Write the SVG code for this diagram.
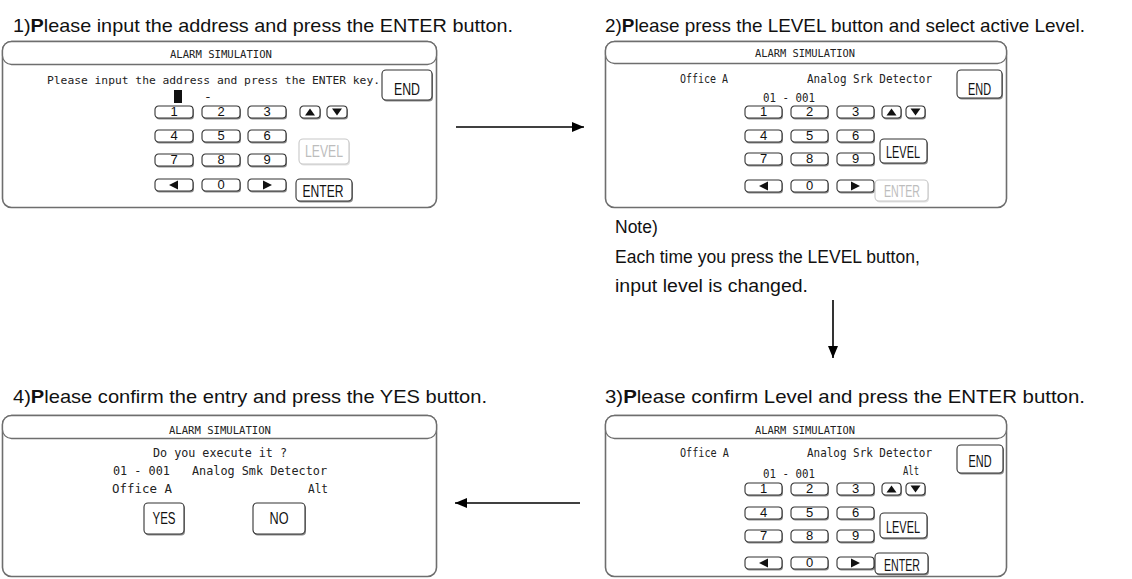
<svg xmlns="http://www.w3.org/2000/svg" width="1132" height="579" viewBox="0 0 1132 579">
<style>
  text { font-family: "Liberation Sans", Arial, sans-serif; }
  .ttl { font-size: 19px; fill: #111; }
  .ttl tspan { font-weight: bold; }
  .note { font-size: 17.5px; fill: #111; }
  .scr { font-family: "DejaVu Sans Mono", "Liberation Mono", monospace; font-size: 13px; fill: #222; }
  .hd { font-family: "DejaVu Sans Mono", "Liberation Mono", monospace; font-size: 11px; fill: #222; }
  .frame { fill: #fff; stroke: #6e6e6e; stroke-width: 1.6; }
  .hdr { fill: #fff; stroke: #6e6e6e; stroke-width: 1.3; }
  .k { fill: #fff; stroke: #333; stroke-width: 1.1; }
  .ksh { fill: #8c8c8c; }
  .kt { font-size: 13px; fill: #111; text-anchor: middle; }
  .bt { font-size: 16px; fill: #111; text-anchor: middle; }
  .off .k { stroke: #c8c8c8; }
  .off .ksh { fill: #e2e2e2; }
  .off .bt { fill: #bdbdbd; }
  .tri { fill: #111; }
  #connectors line { stroke: #000; stroke-width: 1.6; }
</style>
<defs>
  <marker id="arrow" markerUnits="userSpaceOnUse" markerWidth="13" markerHeight="11" refX="12" refY="5" orient="auto">
    <path d="M0,0 L12,5 L0,10 Z" fill="#000"/>
  </marker>
  <!-- numeric keys -->
  <g id="key">
    <rect class="ksh" x="1" y="1.6" width="38" height="12" rx="3.5"/>
    <rect class="k" x="0" y="0" width="38" height="12" rx="3.5"/>
  </g>
  <g id="key2">
    <rect class="ksh" x="1" y="1.6" width="37" height="12" rx="3.5"/>
    <rect class="k" x="0" y="0" width="37" height="12" rx="3.5"/>
  </g>
  <!-- up/down keys -->
  <g id="skey">
    <rect class="ksh" x="1" y="1.6" width="20" height="12" rx="3.5"/>
    <rect class="k" x="0" y="0" width="20" height="12" rx="3.5"/>
  </g>
  <g id="skey2">
    <rect class="ksh" x="1" y="1.6" width="19" height="12" rx="3.5"/>
    <rect class="k" x="0" y="0" width="19" height="12" rx="3.5"/>
  </g>
  <!-- ten-key block for the wide screen, origin at top-left of key "1" -->
  <g id="pad">
    <use href="#key" x="0" y="0"/><use href="#key" x="47" y="0"/><use href="#key" x="93" y="0"/>
    <use href="#key" x="0" y="24"/><use href="#key" x="47" y="24"/><use href="#key" x="93" y="24"/>
    <use href="#key" x="0" y="48"/><use href="#key" x="47" y="48"/><use href="#key" x="93" y="48"/>
    <use href="#key" x="0" y="73"/><use href="#key" x="47" y="73"/><use href="#key" x="93" y="73"/>
    <use href="#skey" x="145" y="0"/><use href="#skey" x="172" y="0"/>
    <text class="kt" x="19" y="10">1</text><text class="kt" x="66" y="10">2</text><text class="kt" x="112" y="10">3</text>
    <text class="kt" x="19" y="34">4</text><text class="kt" x="66" y="34">5</text><text class="kt" x="112" y="34">6</text>
    <text class="kt" x="19" y="58">7</text><text class="kt" x="66" y="58">8</text><text class="kt" x="112" y="58">9</text>
    <text class="kt" x="66" y="83">0</text>
    <path class="tri" d="M14,79 L23,74.5 L23,83.5 Z"/>
    <path class="tri" d="M108,74.5 L117,79 L108,83.5 Z"/>
    <path class="tri" d="M150,9.5 L155,2.5 L160,9.5 Z"/>
    <path class="tri" d="M177,2.5 L187,2.5 L182,9.5 Z"/>
  </g>
  <!-- ten-key block for the narrow screens -->
  <g id="pad2">
    <use href="#key2" x="0" y="0"/><use href="#key2" x="46" y="0"/><use href="#key2" x="92" y="0"/>
    <use href="#key2" x="0" y="24"/><use href="#key2" x="46" y="24"/><use href="#key2" x="92" y="24"/>
    <use href="#key2" x="0" y="47"/><use href="#key2" x="46" y="47"/><use href="#key2" x="92" y="47"/>
    <use href="#key2" x="0" y="74"/><use href="#key2" x="46" y="74"/><use href="#key2" x="92" y="74"/>
    <use href="#skey2" x="137" y="0"/><use href="#skey2" x="161" y="0"/>
    <text class="kt" x="18.5" y="10">1</text><text class="kt" x="64.5" y="10">2</text><text class="kt" x="110.5" y="10">3</text>
    <text class="kt" x="18.5" y="34">4</text><text class="kt" x="64.5" y="34">5</text><text class="kt" x="110.5" y="34">6</text>
    <text class="kt" x="18.5" y="57">7</text><text class="kt" x="64.5" y="57">8</text><text class="kt" x="110.5" y="57">9</text>
    <text class="kt" x="64.5" y="84">0</text>
    <path class="tri" d="M14,80 L23,75.5 L23,84.5 Z"/>
    <path class="tri" d="M106,75.5 L115,80 L106,84.5 Z"/>
    <path class="tri" d="M141.5,9.5 L146.5,2.5 L151.5,9.5 Z"/>
    <path class="tri" d="M165.5,2.5 L175.5,2.5 L170.5,9.5 Z"/>
  </g>
</defs>

<rect width="1132" height="579" fill="#fff"/>

<!-- step 1: address entry -->
<g id="step1">
  <text class="ttl" x="13" y="32" textLength="500" lengthAdjust="spacingAndGlyphs">1)<tspan>P</tspan>lease input the address and press the ENTER button.</text>
  <rect class="frame" x="2.5" y="41.5" width="434" height="166" rx="9"/>
  <rect class="hdr" x="2.5" y="41.5" width="434" height="23" rx="9"/>
  <text class="hd" x="221" y="57.5" text-anchor="middle" textLength="102" lengthAdjust="spacingAndGlyphs">ALARM SIMULATION</text>
  <text class="scr" x="47" y="84" style="font-size:11.3px" textLength="333" lengthAdjust="spacingAndGlyphs">Please input the address and press the ENTER key.</text>
  <g>
    <rect class="ksh" x="383" y="71.5" width="50" height="30" rx="4"/>
    <rect class="k" x="382" y="70" width="50" height="30" rx="4"/>
    <text class="bt" x="407" y="95" textLength="26" lengthAdjust="spacingAndGlyphs">END</text>
  </g>
  <rect x="174" y="90" width="8" height="13" fill="#111"/>
  <text class="scr" x="208" y="101" text-anchor="middle">-</text>
  <use href="#pad" x="155" y="106"/>
  <g class="off">
    <rect class="ksh" x="300" y="140.5" width="50" height="25" rx="4"/>
    <rect class="k" x="299" y="139" width="50" height="25" rx="4"/>
    <text class="bt" x="324" y="157" textLength="38" lengthAdjust="spacingAndGlyphs">LEVEL</text>
  </g>
  <g>
    <rect class="ksh" x="297" y="180.5" width="56" height="22" rx="4"/>
    <rect class="k" x="296" y="179" width="56" height="22" rx="4"/>
    <text class="bt" x="323" y="197" textLength="41" lengthAdjust="spacingAndGlyphs">ENTER</text>
  </g>
</g>

<!-- step 2: level selection -->
<g id="step2">
  <text class="ttl" x="605" y="32" textLength="480" lengthAdjust="spacingAndGlyphs">2)<tspan>P</tspan>lease press the LEVEL button and select active Level.</text>
  <rect class="frame" x="605.5" y="41.5" width="401" height="166" rx="9"/>
  <rect class="hdr" x="605.5" y="41.5" width="401" height="22" rx="9"/>
  <text class="hd" x="805" y="57" text-anchor="middle" textLength="100" lengthAdjust="spacingAndGlyphs">ALARM SIMULATION</text>
  <text class="scr" x="680" y="83" textLength="48" lengthAdjust="spacingAndGlyphs">Office A</text>
  <text class="scr" x="807" y="83" textLength="125" lengthAdjust="spacingAndGlyphs">Analog Srk Detector</text>
  <text class="scr" x="763" y="102" textLength="52" lengthAdjust="spacingAndGlyphs">01 - 001</text>
  <g>
    <rect class="ksh" x="958" y="71.5" width="45" height="28" rx="4"/>
    <rect class="k" x="957" y="70" width="45" height="28" rx="4"/>
    <text class="bt" x="979.5" y="94.5" textLength="23" lengthAdjust="spacingAndGlyphs">END</text>
  </g>
  <use href="#pad2" x="745" y="106"/>
  <g>
    <rect class="ksh" x="881" y="140.5" width="47" height="24" rx="4"/>
    <rect class="k" x="880" y="139" width="47" height="24" rx="4"/>
    <text class="bt" x="903" y="158" textLength="34" lengthAdjust="spacingAndGlyphs">LEVEL</text>
  </g>
  <g class="off">
    <rect class="ksh" x="876" y="181.5" width="53" height="21" rx="4"/>
    <rect class="k" x="875" y="180" width="53" height="21" rx="4"/>
    <text class="bt" x="902" y="196.5" textLength="36" lengthAdjust="spacingAndGlyphs">ENTER</text>
  </g>
</g>

<!-- note under step 2 -->
<g id="note">
  <text class="note" x="615" y="233">Note)</text>
  <text class="note" x="615" y="263">Each time you press the LEVEL button,</text>
  <text class="note" x="615" y="292" textLength="193" lengthAdjust="spacingAndGlyphs">input level is changed.</text>
</g>

<!-- step 3: level confirmation -->
<g id="step3">
  <text class="ttl" x="605" y="403" textLength="480" lengthAdjust="spacingAndGlyphs">3)<tspan>P</tspan>lease confirm Level and press the ENTER button.</text>
  <rect class="frame" x="605.5" y="415.5" width="401" height="161" rx="9"/>
  <rect class="hdr" x="605.5" y="415.5" width="401" height="23" rx="9"/>
  <text class="hd" x="805" y="433.5" text-anchor="middle" textLength="100" lengthAdjust="spacingAndGlyphs">ALARM SIMULATION</text>
  <text class="scr" x="680" y="457" textLength="49" lengthAdjust="spacingAndGlyphs">Office A</text>
  <text class="scr" x="807" y="457" textLength="125" lengthAdjust="spacingAndGlyphs">Analog Srk Detector</text>
  <text class="scr" x="903" y="475" textLength="16" lengthAdjust="spacingAndGlyphs">Alt</text>
  <text class="scr" x="763" y="478" textLength="52" lengthAdjust="spacingAndGlyphs">01 - 001</text>
  <g>
    <rect class="ksh" x="958" y="446.5" width="46" height="28" rx="4"/>
    <rect class="k" x="957" y="445" width="46" height="28" rx="4"/>
    <text class="bt" x="980" y="467" textLength="23" lengthAdjust="spacingAndGlyphs">END</text>
  </g>
  <use href="#pad2" x="745" y="483"/>
  <g>
    <rect class="ksh" x="881" y="514.5" width="47" height="25" rx="4"/>
    <rect class="k" x="880" y="513" width="47" height="25" rx="4"/>
    <text class="bt" x="903" y="533" textLength="34" lengthAdjust="spacingAndGlyphs">LEVEL</text>
  </g>
  <g>
    <rect class="ksh" x="876" y="554.5" width="53" height="21" rx="4"/>
    <rect class="k" x="875" y="553" width="53" height="21" rx="4"/>
    <text class="bt" x="902" y="571" textLength="36" lengthAdjust="spacingAndGlyphs">ENTER</text>
  </g>
</g>

<!-- step 4: execution confirmation -->
<g id="step4">
  <text class="ttl" x="13" y="403" textLength="474" lengthAdjust="spacingAndGlyphs">4)<tspan>P</tspan>lease confirm the entry and press the YES button.</text>
  <rect class="frame" x="2.5" y="415.5" width="434" height="161" rx="9"/>
  <rect class="hdr" x="2.5" y="415.5" width="434" height="23" rx="9"/>
  <text class="hd" x="220" y="433.5" text-anchor="middle" textLength="102" lengthAdjust="spacingAndGlyphs">ALARM SIMULATION</text>
  <text class="scr" x="220" y="457" text-anchor="middle" textLength="134" lengthAdjust="spacingAndGlyphs">Do you execute it ?</text>
  <text class="scr" x="113" y="475" textLength="57" lengthAdjust="spacingAndGlyphs">01 - 001</text>
  <text class="scr" x="192" y="475" textLength="135" lengthAdjust="spacingAndGlyphs">Analog Smk Detector</text>
  <text class="scr" x="112" y="493" textLength="60" lengthAdjust="spacingAndGlyphs">Office A</text>
  <text class="scr" x="308" y="493" textLength="20" lengthAdjust="spacingAndGlyphs">Alt</text>
  <g>
    <rect class="ksh" x="145" y="504.5" width="40" height="31" rx="4"/>
    <rect class="k" x="144" y="503" width="40" height="31" rx="4"/>
    <text class="bt" x="164" y="523.5" textLength="23" lengthAdjust="spacingAndGlyphs">YES</text>
  </g>
  <g>
    <rect class="ksh" x="254" y="504.5" width="52" height="31" rx="4"/>
    <rect class="k" x="253" y="503" width="52" height="31" rx="4"/>
    <text class="bt" x="279" y="523.5" textLength="19" lengthAdjust="spacingAndGlyphs">NO</text>
  </g>
</g>

<g id="connectors">
  <line x1="456" y1="127" x2="584" y2="127" marker-end="url(#arrow)"/>
  <line x1="833" y1="300" x2="833" y2="358" marker-end="url(#arrow)"/>
  <line x1="580" y1="503" x2="455" y2="503" marker-end="url(#arrow)"/>
</g>
</svg>
